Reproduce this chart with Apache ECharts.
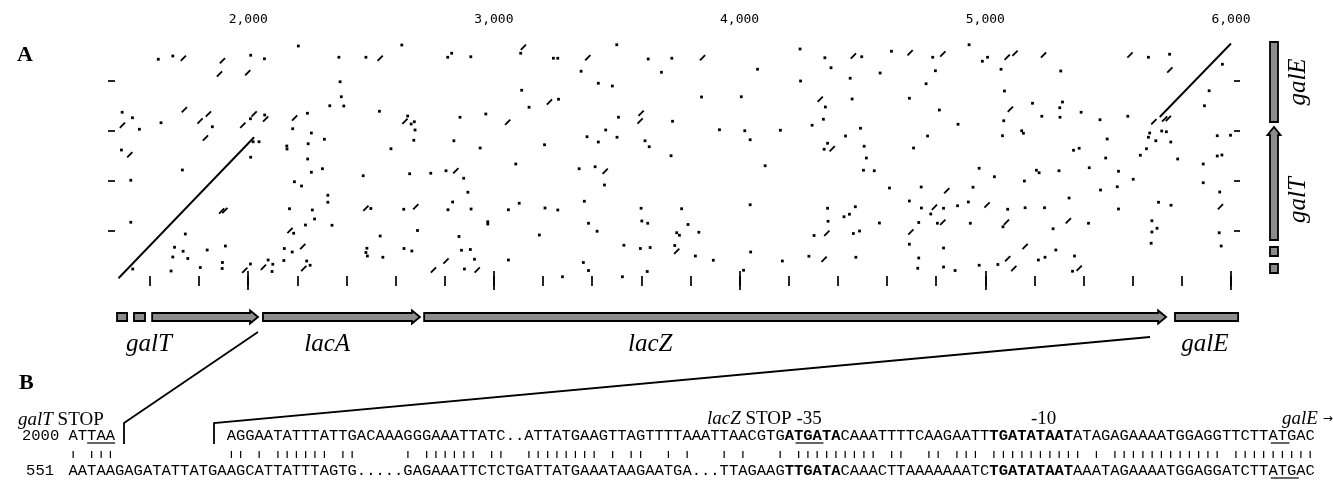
<!DOCTYPE html>
<html>
<head>
<meta charset="utf-8">
<title>galT - lac - galE dot plot</title>
<script src="https://cdn.jsdelivr.net/npm/echarts@6/dist/echarts.min.js"></script>
<style>
  html, body { margin: 0; padding: 0; background: #fff; }
  #main { width: 1333px; height: 481px; }
</style>
</head>
<body>
<div id="main"></div>
<script>
// ---- data (bp) ----
const xMinorTicks = [1600, 1800, 2000, 2200, 2400, 2600, 2800, 3000, 3200, 3400, 3600, 3800,
  4000, 4200, 4400, 4600, 4800, 5000, 5200, 5400, 5600, 5800, 6000];
const xMajorTicks = [2000, 3000, 4000, 5000, 6000];
const yTicks = [200, 400, 600, 800];

// long matches (the two diagonals)
const diagonals = [
  [[1472, 11], [2024, 575]],
  [[5710, 656], [6000, 950]]
];

// short matches: single dots
const dots = [
  [1634,887],[1693,900],[2010,903],[2066,889],[2204,940],[2369,895],[2479,895],[2374,797],[2379,737],[2332,701],
  [2389,700],[2534,679],[1487,675],[1529,653],[1557,607],[1645,633],[1854,617],[2009,649],[2067,664],[2241,671],
  [2181,609],[2257,592],[2244,549],[2310,567],[2157,540],[2158,528],[1484,524],[2010,495],[2020,557],[2044,557],
  [2242,488],[2302,449],[2257,435],[1732,444],[1522,403],[2188,397],[2217,380],[2468,421],[2324,343],[2324,315],
  [2168,289],[2261,284],[2270,248],[2233,224],[2341,223],[2499,290],[1522,235],[2185,191],[1744,188],[2537,180],
  [1700,135],[1735,119],[1693,96],[1754,90],[1833,124],[1907,140],[1895,74],[1894,50],[2147,130],[2179,116],
  [2238,80],[2252,63],[2483,131],[2479,114],[2485,100],[2548,95],[1530,48],[1686,40],[1805,54],[2009,68],
  [2081,84],[2100,67],[2097,38],[2145,82],
  [2625,944],[2812,895],[2828,911],[2906,897],[3109,911],[3242,891],[3260,891],[3500,945],[3628,888],[3724,891],
  [3355,839],[3425,791],[3482,780],[3682,835],[3113,763],[3263,727],[3143,695],[2649,660],[2663,628],[2676,637],
  [2679,604],[2862,655],[2967,668],[3507,655],[3727,639],[3455,604],[3379,577],[3425,556],[3501,575],[3615,561],
  [3632,537],[2674,563],[2837,561],[2581,529],[2944,532],[3206,545],[3721,501],[3089,468],[3347,449],[3412,457],
  [3450,384],[2657,429],[2743,431],[2805,441],[2877,411],[2894,355],[3368,319],[3103,311],[2633,287],[2813,285],
  [2832,316],[2907,288],[3059,285],[3208,292],[3260,284],[3599,291],[2975,237],[2975,228],[3385,231],[3602,240],
  [3626,231],[3420,199],[2689,202],[2858,178],[3185,184],[3529,143],[3596,130],[3636,134],[2634,130],[2666,120],
  [2868,123],[2904,126],[2921,87],[3059,84],[3364,74],[2880,48],[3279,17],[3385,42],[3523,17],[3624,38],
  [4246,928],[4347,893],[4497,897],[4618,919],[4786,895],[4073,847],[4372,853],[4450,811],[4572,832],[4797,841],
  [4248,800],[4759,789],[3845,736],[4007,737],[4458,728],[4691,731],[4349,696],[4813,684],[3918,605],[4021,601],
  [4166,603],[4295,623],[4341,647],[4492,611],[4889,627],[4043,565],[4431,580],[4765,580],[4358,551],[4344,527],
  [4507,539],[4708,532],[4516,492],[4104,461],[4504,443],[4548,441],[4610,372],[4739,376],[4691,320],[3764,289],
  [4043,305],[4358,291],[4471,297],[4425,257],[4447,267],[4740,292],[4830,291],[4778,268],[4887,301],[4360,239],
  [4569,232],[4729,234],[4805,231],[3790,226],[3744,193],[3755,183],[3834,195],[4303,182],[4463,190],[4488,200],
  [4691,147],[4830,132],[3736,142],[3820,100],[3893,83],[4045,116],[4174,80],[4282,99],[4473,95],[4729,92],
  [4016,43],[4725,51],[4830,56],[4877,42],
  [4934,945],[5009,895],[4988,879],[5664,895],[5750,907],[5064,847],[5307,840],[5078,760],[5965,867],[5911,761],
  [5892,701],[5192,711],[5314,716],[5303,693],[5230,659],[5304,655],[5390,675],[5467,645],[5580,659],[5075,641],
  [5148,601],[5155,591],[5070,581],[5496,568],[5669,592],[5664,575],[5694,561],[5718,600],[5737,597],[5755,556],
  [5656,529],[5631,503],[5490,492],[5783,488],[5887,468],[5944,581],[5998,583],[5944,500],[5963,504],[5359,523],
  [5382,531],[4975,451],[5037,417],[5208,443],[5219,433],[5300,441],[5423,453],[5542,439],[5602,407],[5159,400],
  [4950,375],[5469,364],[5537,377],[5887,393],[5954,356],[5341,332],[4931,316],[5091,287],[5162,293],[5241,293],
  [5542,288],[5705,315],[5756,303],[4939,231],[5072,217],[5420,231],[5276,209],[5678,241],[5678,196],[5699,211],
  [5952,193],[5675,151],[5960,140],[5287,124],[5216,84],[5243,95],[5051,66],[4975,63],[5363,100],[5355,39]
];

// short matches: small diagonal dashes
const dashes = [
  [1736,891],[1895,881],[2537,891],[1883,828],[1998,833],[1488,623],[1740,685],[1804,640],[1838,668],[1826,572],
  [1978,623],[2024,668],[2071,648],[2189,652],[1518,505],[1892,280],[1905,282],[2479,291],[2170,202],[2222,138],
  [2226,50],[1986,43],[2062,55],
  [3120,935],[3382,893],[3226,716],[2638,639],[3056,635],[3599,671],[3595,640],[3453,439],[2845,441],[2682,297],
  [2805,80],[2754,44],[2932,44],
  [3849,893],[4463,900],[4694,913],[4827,908],[4328,727],[4377,529],[4843,361],[4793,295],[4827,235],[4355,191],
  [4697,196],[3744,119],[4344,87],
  [5089,895],[5121,911],[5237,904],[5589,904],[5751,844],[5102,687],[5686,637],[5007,304],[5957,297],[5086,235],
  [5338,241],[5162,138],[5091,89],[5116,50],[5382,51],[5730,648],[5745,650]
];

// genes along x: [start, end, arrow]
const genesX = [[1466,1507,0],[1535,1580,0],[1609,2040,1],[2060,2699,1],[2716,5736,1],[5772,6029,0]];
const geneNamesX = ['galT', 'lacA', 'lacZ', 'galE'];
const geneLabelPosX = [1596, 2321, 3636, 5894];
// genes along y: [start, end, arrow]
const genesY = [[32,68,0],[100,136,0],[164,616,1],[636,956,0]];
const geneNamesY = ['galT', 'galE'];
const geneLabelPosY = [324, 796];

// alignment (panel B)
const topSeq = [
  ['ATTAA            AGGAATATTTATTGACAAAGGGAAATTATC..ATTATGAAGTTAGTTTTAAATTAACGTG', 0],
  ['ATGATA', 1], ['CAAATTTTCAAGAATT', 0], ['TGATATAAT', 1], ['ATAGAGAAAATGGAGGTTCTTATGAC', 0]
];
const botSeq = [
  ['AATAAGAGATATTATGAAGCATTATTTAGTG.....GAGAAATTCTCTGATTATGAAATAAGAATGA...TTAGAAG', 0],
  ['TTGATA', 1], ['CAAACTTAAAAAAATC', 0], ['TGATATAAT', 1], ['AAATAGAAAATGGAGGATCTTATGAC', 0]
];
const matchRow = '| |||' + '            ' + '|| | |||||| ||' + '     ' + '| |||||| ||  ' +
  '|||||||| | ||  | |' + '   | |   | ' + '||||||||| ||  || ||| ' + '|||||||||| | ' + '|||||||||||| |||||||||';

// ---- drawing ----
const ROW_Y = -144;      // y value of the gene track under the plot
const LABEL_ROW_Y = -252;
const COL_X = 6175;      // x value of the gene track right of the plot
const LABEL_COL_X = 6273;
const SERIF = '"Liberation Serif", "DejaVu Serif", serif';
const MONO = '"Liberation Mono", "DejaVu Sans Mono", monospace';

const GENE_STYLE = { fill: '#8c8c8c', stroke: '#000', lineWidth: 1.8 };

function geneX(params, api) {
  const a = api.coord([api.value(0), ROW_Y]);
  const b = api.coord([api.value(1), ROW_Y]);
  const y = a[1], h = 4;
  let pts;
  if (api.value(2)) {
    const hl = 8, hh = 6.5;
    pts = [[a[0], y - h], [b[0] - hl, y - h], [b[0] - hl, y - hh], [b[0], y],
           [b[0] - hl, y + hh], [b[0] - hl, y + h], [a[0], y + h]];
  } else {
    pts = [[a[0], y - h], [b[0], y - h], [b[0], y + h], [a[0], y + h]];
  }
  return { type: 'polygon', shape: { points: pts }, style: GENE_STYLE };
}

function geneY(params, api) {
  const a = api.coord([COL_X, api.value(0)]);
  const b = api.coord([COL_X, api.value(1)]);
  const x = a[0], w = 4;
  let pts;
  if (api.value(2)) {
    const hl = 8, hh = 6.5;
    pts = [[x - w, a[1]], [x - w, b[1] + hl], [x - hh, b[1] + hl], [x, b[1]],
           [x + hh, b[1] + hl], [x + w, b[1] + hl], [x + w, a[1]]];
  } else {
    pts = [[x - w, a[1]], [x - w, b[1]], [x + w, b[1]], [x + w, a[1]]];
  }
  return { type: 'polygon', shape: { points: pts }, style: GENE_STYLE };
}

function labelX(params, api) {
  const p = api.coord([api.value(0), LABEL_ROW_Y]);
  return { type: 'text', x: p[0], y: p[1], style: {
    text: geneNamesX[params.dataIndex], fontFamily: SERIF, fontSize: 25, fontStyle: 'italic',
    fill: '#000', align: 'center', verticalAlign: 'middle' } };
}

function labelY(params, api) {
  const p = api.coord([LABEL_COL_X, api.value(1)]);
  return { type: 'text', x: p[0], y: p[1], rotation: Math.PI / 2, style: {
    text: geneNamesY[params.dataIndex], fontFamily: SERIF, fontSize: 25, fontStyle: 'italic',
    fill: '#000', align: 'center', verticalAlign: 'middle' } };
}

function rich(segs) {
  return segs.map(s => '{' + (s[1] ? 'b' : 'n') + '|' + s[0] + '}').join('');
}

const tickStyle = { color: '#000', width: 1.7 };
const xBase = { type: 'value', min: 1470, max: 6000, axisLine: { show: false }, splitLine: { show: false } };
const yBase = { type: 'value', min: 0, max: 950, axisLine: { show: false }, splitLine: { show: false },
  axisLabel: { show: false } };

const SEQ_X0 = 68.5, CW = 9.32;
const seqFont = { fontFamily: MONO, fontSize: 15.5 };
function underline(col, n, y) {
  return { type: 'line', shape: { x1: SEQ_X0 + col * CW, y1: y, x2: SEQ_X0 + (col + n) * CW, y2: y },
    style: { stroke: '#000', lineWidth: 1.2 } };
}
const serifLabel = (x, y, text) => ({ type: 'text', x: x, y: y, style: {
  text: text, fontFamily: SERIF, fontSize: 19, fill: '#000', verticalAlign: 'middle',
  rich: {
    i: { fontFamily: SERIF, fontSize: 19, fontStyle: 'italic' },
    a: { fontFamily: '"DejaVu Sans", sans-serif', fontSize: 12 }
  } } });

const chart = echarts.init(document.getElementById('main'));
const option = {
  animation: false,
  backgroundColor: '#fff',
  grid: { left: 118, right: 102, top: 43.5, bottom: 200, containLabel: false },
  xAxis: [
    Object.assign({}, xBase, { position: 'top',
      axisTick: { show: true, customValues: xMinorTicks, length: 5, lineStyle: tickStyle }, axisLabel: { show: false } }),
    Object.assign({}, xBase, { position: 'top',
      axisTick: { show: true, customValues: xMajorTicks, length: 10, lineStyle: tickStyle },
      axisLabel: { show: true, customValues: xMajorTicks, margin: 17, color: '#000',
        fontFamily: '"DejaVu Sans Mono", monospace', fontSize: 13,
        formatter: v => v.toLocaleString('en-US') } }),
    Object.assign({}, xBase, { position: 'bottom',
      axisTick: { show: true, customValues: xMinorTicks, length: 5, lineStyle: tickStyle }, axisLabel: { show: false } }),
    Object.assign({}, xBase, { position: 'bottom',
      axisTick: { show: true, customValues: xMajorTicks, length: 9, lineStyle: tickStyle }, axisLabel: { show: false } })
  ],
  yAxis: [
    Object.assign({}, yBase, { position: 'left', offset: 3,
      axisTick: { show: true, customValues: yTicks, length: 7, lineStyle: tickStyle } }),
    Object.assign({}, yBase, { position: 'right', offset: 3,
      axisTick: { show: true, customValues: yTicks, length: 6, lineStyle: tickStyle } })
  ],
  series: [
    {
      type: 'lines', coordinateSystem: 'cartesian2d', silent: true,
      data: diagonals.map(c => ({ coords: c })),
      lineStyle: { color: '#000', width: 1.9, opacity: 1 }
    },
    {
      type: 'scatter', silent: true, data: dots,
      symbol: 'rect', symbolSize: 2.8, itemStyle: { color: '#000', opacity: 1 }
    },
    {
      type: 'scatter', silent: true, data: dashes,
      symbol: 'path://M0,8 L8,0 L10,2 L2,10 Z', symbolSize: 6.5, symbolKeepAspect: true,
      itemStyle: { color: '#000', opacity: 1 }
    },
    { type: 'custom', silent: true, clip: false, data: genesX, renderItem: geneX, encode: { x: 0, y: 2 } },
    { type: 'custom', silent: true, clip: false, data: genesY, renderItem: geneY, encode: { x: 2, y: 0 } },
    { type: 'custom', silent: true, clip: false, data: geneLabelPosX.map(v => [v]), renderItem: labelX, encode: { x: 0 } },
    { type: 'custom', silent: true, clip: false, data: geneLabelPosY.map(v => [0, v]), renderItem: labelY, encode: { x: 0, y: 1 } }
  ],
  graphic: [
    { type: 'text', x: 17, y: 55, style: { text: 'A', fontFamily: SERIF, fontSize: 22, fontWeight: 'bold', fill: '#000', verticalAlign: 'middle' } },
    { type: 'text', x: 19, y: 383, style: { text: 'B', fontFamily: SERIF, fontSize: 22, fontWeight: 'bold', fill: '#000', verticalAlign: 'middle' } },
    { type: 'polyline', shape: { points: [[258, 332], [124, 423], [124, 444]] }, style: { stroke: '#000', lineWidth: 1.8, fill: null } },
    { type: 'polyline', shape: { points: [[1150, 337], [214, 423], [214, 444]] }, style: { stroke: '#000', lineWidth: 1.8, fill: null } },
    serifLabel(18, 420, '{i|galT} STOP'),
    serifLabel(707, 419, '{i|lacZ} STOP -35'),
    serifLabel(1031, 419, '-10'),
    serifLabel(1282, 419, '{i|galE} {a|\u2192}'),
    { type: 'text', x: 22, y: 436, style: Object.assign({ text: '2000', fill: '#000', verticalAlign: 'middle' }, seqFont) },
    { type: 'text', x: 54, y: 471, style: Object.assign({ text: '551', fill: '#000', align: 'right', verticalAlign: 'middle' }, seqFont) },
    { type: 'text', x: SEQ_X0, y: 436, style: Object.assign({ text: rich(topSeq), fill: '#000', verticalAlign: 'middle',
        rich: { n: seqFont, b: Object.assign({ fontWeight: 'bold' }, seqFont) } }, seqFont) },
    { type: 'text', x: SEQ_X0, y: 454, scaleY: 0.5, originY: 0, style: Object.assign({ text: matchRow, fill: '#000', verticalAlign: 'middle' }, seqFont) },
    { type: 'text', x: SEQ_X0, y: 471, style: Object.assign({ text: rich(botSeq), fill: '#000', verticalAlign: 'middle',
        rich: { n: seqFont, b: Object.assign({ fontWeight: 'bold' }, seqFont) } }, seqFont) },
    underline(2, 3, 443),
    underline(78, 3, 443),
    underline(129, 2, 443),
    underline(129, 3, 478)
  ]
};
chart.setOption(option);
window.addEventListener('resize', function () { chart.resize(); });
</script>
</body>
</html>
